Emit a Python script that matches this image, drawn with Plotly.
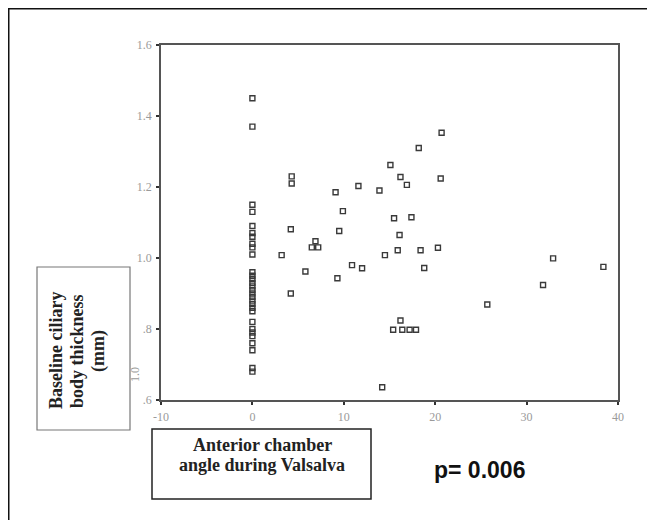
import plotly.graph_objects as go

# Data
angle_x0 = [0]*30
thick_x0 = [1.45, 1.37, 1.15, 1.13, 1.09, 1.07, 1.06, 1.04, 1.03, 1.01,
            0.96, 0.95, 0.94, 0.93, 0.92, 0.91, 0.90, 0.89, 0.88, 0.87,
            0.86, 0.85, 0.82, 0.80, 0.79, 0.78, 0.76, 0.74, 0.69, 0.68]

angle_other = [4.3, 4.3, 9.1, 11.6, 13.9, 15.1, 16.2, 16.9, 18.2, 20.7,
               9.9, 15.5, 17.4, 20.6, 4.2, 9.5, 3.2, 6.5, 7.2, 6.9,
               5.8, 4.2, 9.3, 10.9, 12.0, 14.5, 16.1, 15.9, 18.4, 20.3,
               18.8, 32.9, 38.4, 31.8, 25.7, 16.2, 15.4, 16.4, 17.2, 17.9,
               14.2]
thick_other = [1.23, 1.21, 1.185, 1.203, 1.19, 1.262, 1.228, 1.206, 1.31, 1.353,
               1.132, 1.112, 1.115, 1.224, 1.081, 1.076, 1.008, 1.03, 1.03, 1.047,
               0.962, 0.90, 0.943, 0.98, 0.971, 1.008, 1.065, 1.022, 1.022, 1.029,
               0.972, 0.999, 0.975, 0.924, 0.869, 0.824, 0.798, 0.798, 0.798, 0.798,
               0.636]

x_ticks = [-10, 0, 10, 20, 30, 40]
x_tick_labels = ["-10", "0", "10", "20", "30", "40"]
y_ticks = [0.6, 0.8, 1.0, 1.2, 1.4, 1.6]
y_tick_labels = [".6", ".8", "1.0", "1.2", "1.4", "1.6"]

OFF = 8  # page body margin
W, H = 655 - OFF, 520 - OFF
# plot area in screen pixels
SL, SR, ST, SB = 161, 618, 45, 400
L, R, T, B = SL - OFF, SR - OFF, ST - OFF, SB - OFF

def px(x):
    return (x - SL) / (SR - SL)

def py(y):
    return (SB - y) / (SB - ST)

fig = go.Figure()
fig.add_trace(go.Scatter(
    x=angle_x0 + angle_other, y=thick_x0 + thick_other,
    mode="markers",
    marker=dict(symbol="square-open", size=5, color="#3a3a3a",
                line=dict(width=1.4, color="#3a3a3a")),
    showlegend=False, hoverinfo="x+y"))

axis_common = dict(showline=True, linecolor="#555", linewidth=1.5, mirror=True,
                   showgrid=False, zeroline=False, ticks="outside", ticklen=3,
                   tickcolor="#333", tickwidth=1.5,
                   tickfont=dict(family="Liberation Serif", size=12, color="#9a9a9a"))

fig.update_layout(
    width=W, height=H,
    margin=dict(l=L, r=W - R, t=T, b=H - B),
    paper_bgcolor="white", plot_bgcolor="white",
    xaxis=dict(range=[-10, 40], tickvals=x_ticks, ticktext=x_tick_labels,
               ticklabelstandoff=2, **axis_common),
    yaxis=dict(range=[0.6, 1.6], tickvals=y_ticks, ticktext=y_tick_labels,
               ticklabelstandoff=2, **axis_common),
)

shapes = []
# outer frame (top and left)
shapes.append(dict(type="line", xref="paper", yref="paper",
                   x0=px(8), x1=px(660), y0=py(8.5), y1=py(8.5),
                   line=dict(color="#111", width=2)))
shapes.append(dict(type="line", xref="paper", yref="paper",
                   x0=px(8.5), x1=px(8.5), y0=py(8), y1=py(525),
                   line=dict(color="#111", width=2)))
# y title box
shapes.append(dict(type="rect", xref="paper", yref="paper",
                   x0=px(37), x1=px(130), y0=py(267), y1=py(430),
                   line=dict(color="#777", width=1.2), fillcolor="white"))
# x title box
shapes.append(dict(type="rect", xref="paper", yref="paper",
                   x0=px(152), x1=px(371), y0=py(429), y1=py(499),
                   line=dict(color="#222", width=1.5), fillcolor="white"))
fig.update_layout(shapes=shapes)

title_font = dict(family="Liberation Serif", size=18, color="#222")
anns = []
for xx, txt in [(56, "Baseline ciliary"), (77, "body thickness"), (98, "(mm)")]:
    anns.append(dict(xref="paper", yref="paper", x=px(xx), y=py(351),
                     text="<b>" + txt + "</b>", textangle=-90,
                     showarrow=False, xanchor="center", yanchor="middle",
                     font=title_font))
for yy, txt in [(445, "Anterior chamber"), (465, "angle during Valsalva")]:
    anns.append(dict(xref="paper", yref="paper", x=px(262), y=py(yy),
                     text="<b>" + txt + "</b>",
                     showarrow=False, xanchor="center", yanchor="middle",
                     font=title_font))
anns.append(dict(xref="paper", yref="paper", x=px(432), y=py(470),
                 text="<b>p= 0.006</b>", showarrow=False,
                 xanchor="left", yanchor="middle",
                 font=dict(family="Liberation Sans", size=23, color="#111")))
anns.append(dict(xref="paper", yref="paper", x=px(135), y=py(375),
                 text="1.0", textangle=-90, showarrow=False,
                 xanchor="center", yanchor="middle",
                 font=dict(family="Liberation Serif", size=12, color="#999")))
fig.update_layout(annotations=anns)

fig.write_html("out.html")
